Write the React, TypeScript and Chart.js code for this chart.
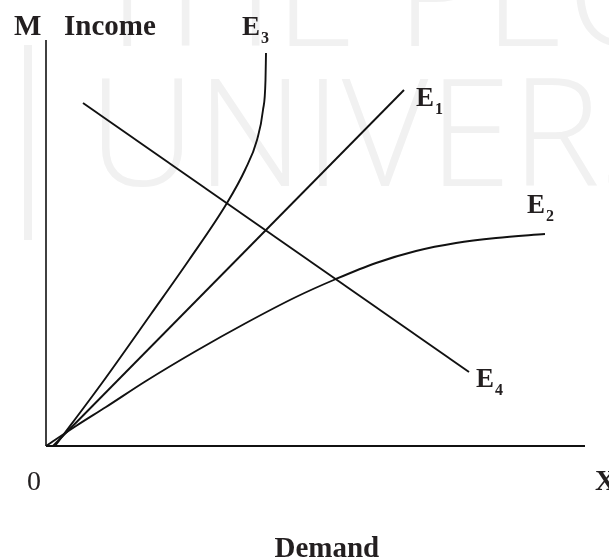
import React, { useEffect, useRef } from "react";
import { Chart, registerables } from "chart.js";

Chart.register(...registerables);

// Demand (x) / Income (y) in arbitrary units
const xMax = 539;
const yMax = 406;

const e1Demand = [7, 358];
const e1Income = [0, 356];

const e2Demand = [0, 30, 60, 100, 150, 200, 250, 290, 330, 370, 410, 450, 499];
const e2Income = [0, 20, 39, 65, 95, 123, 149, 167, 183, 195, 203, 208, 212];

const e3Demand = [9, 56, 105, 143, 181, 199, 211, 217, 219.5, 220];
const e3Income = [0, 63, 132, 186, 243, 276, 306, 336, 366, 393];

const e4Demand = [37, 423];
const e4Income = [343, 74];

const curveNames = ["1", "2", "3", "4"];

const SERIF = '"Liberation Serif", "Times New Roman", serif';

const toPoints = (xs: number[], ys: number[]) => xs.map((x, i) => ({ x, y: ys[i] }));

const labelPlugin = {
  id: "labels",
  beforeDraw(chart: any) {
    const ctx = chart.ctx;
    ctx.save();
    ctx.fillStyle = "#f1f1f1";
    ctx.font = '300 150px "Open Sans", sans-serif';
    ctx.textBaseline = "alphabetic";
    ctx.fillText("THE PEOPLE'S", 88, 46);
    ctx.fillText("UNIVERSITY", 88, 186);
    ctx.fillRect(24, 45, 8, 195);
    ctx.restore();
  },
  afterDraw(chart: any) {
    const ctx = chart.ctx;
    const { left, top, right, bottom } = chart.chartArea;
    const xs = chart.scales.x;
    const ys = chart.scales.y;
    ctx.save();
    ctx.fillStyle = "#231f20";
    ctx.textBaseline = "alphabetic";
    ctx.textAlign = "left";
    ctx.font = `bold 29px ${SERIF}`;
    ctx.fillText("M", left - 32, top - 5);
    ctx.fillText("Income", left + 18, top - 5);
    ctx.fillText("X", right + 10, bottom + 44);
    ctx.fillText("Demand", (left + right) / 2 - 41, bottom + 111);
    ctx.font = `28px ${SERIF}`;
    ctx.fillText("0", left - 19, bottom + 44);

    const ends = [
      { x: e1Demand[e1Demand.length - 1], y: e1Income[e1Income.length - 1], dx: 12, dy: 16 },
      { x: e2Demand[e2Demand.length - 1], y: e2Income[e2Income.length - 1], dx: -18, dy: -21 },
      { x: e3Demand[e3Demand.length - 1], y: e3Income[e3Income.length - 1], dx: -24, dy: -18 },
      { x: e4Demand[e4Demand.length - 1], y: e4Income[e4Income.length - 1], dx: 7, dy: 15 },
    ];
    ends.forEach((e, i) => {
      const px = xs.getPixelForValue(e.x) + e.dx;
      const py = ys.getPixelForValue(e.y) + e.dy;
      ctx.font = `bold 27px ${SERIF}`;
      ctx.fillText("E", px, py);
      const w = ctx.measureText("E").width;
      ctx.font = `bold 16px ${SERIF}`;
      ctx.fillText(curveNames[i], px + w + 1, py + 8);
    });
    ctx.restore();
  },
};

export default function App() {
  const ref = useRef<HTMLCanvasElement>(null);
  useEffect(() => {
    if (!ref.current) return;
    const line = (data: any[], width = 2) => ({
      data,
      borderColor: "#111",
      borderWidth: width,
      pointRadius: 0,
      fill: false,
      showLine: true,
      tension: 0.4,
      cubicInterpolationMode: "monotone" as const,
      clip: false as any,
    });
    const chart = new Chart(ref.current, {
      type: "scatter",
      data: {
        datasets: [
          line([{ x: 0, y: 0 }, { x: xMax, y: 0 }], 2.2),
          line([{ x: 0, y: 0 }, { x: 0, y: yMax }], 1.6),
          line(toPoints(e1Demand, e1Income), 1.9),
          line(toPoints(e2Demand, e2Income), 1.9),
          line(toPoints(e3Demand, e3Income), 1.9),
          line(toPoints(e4Demand, e4Income), 1.9),
        ],
      },
      options: {
        responsive: false,
        animation: false,
        layout: { padding: { left: 46, top: 40, right: 24, bottom: 113 } },
        plugins: { legend: { display: false }, tooltip: { enabled: false } },
        scales: {
          x: { type: "linear", min: 0, max: xMax, display: false },
          y: { type: "linear", min: 0, max: yMax, display: false },
        },
      },
      plugins: [labelPlugin],
    });
    return () => chart.destroy();
  }, []);
  return (
    <div style={{ position: "fixed", left: 0, top: 0, width: 609, height: 559, background: "#fff" }}>
      <canvas ref={ref} width={609} height={559} />
    </div>
  );
}
